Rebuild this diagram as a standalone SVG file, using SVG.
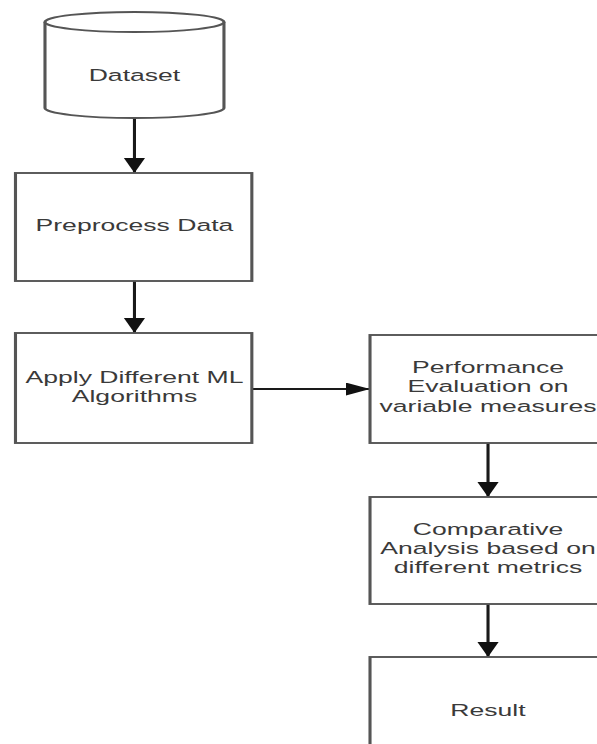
<svg xmlns="http://www.w3.org/2000/svg" width="597" height="744" viewBox="0 0 597 744">
<style>
.box{fill:#fff;stroke:#555;stroke-width:1.9}
.conn{fill:none;stroke:#1a1a1a;stroke-width:1.9}
.lbl{font-family:"Liberation Sans",Arial,sans-serif;font-size:16.3px;fill:#3a3a3a;text-anchor:middle}
</style>
<defs>
<marker id="ah" markerUnits="userSpaceOnUse" markerWidth="16" markerHeight="14" refX="15" refY="6.5" orient="auto">
<path d="M0 0 L15 6.5 L0 13 Z" fill="#111"/>
</marker>
</defs>
<rect width="597" height="744" fill="#fff"/>
<g transform="scale(1.63 1)">
<g id="connectors">
<line class="conn" x1="82.5" y1="118" x2="82.5" y2="173" marker-end="url(#ah)"/>
<line class="conn" x1="82.5" y1="281" x2="82.5" y2="333" marker-end="url(#ah)"/>
<line class="conn" x1="154.6" y1="389" x2="227" y2="389" marker-end="url(#ah)"/>
<line class="conn" x1="299.4" y1="443" x2="299.4" y2="497" marker-end="url(#ah)"/>
<line class="conn" x1="299.4" y1="604" x2="299.4" y2="657" marker-end="url(#ah)"/>
</g>
<g id="dataset">
<path class="box" d="M27.6 22 A54.9 10 0 0 1 137.4 22 L137.4 108 A54.9 10 0 0 1 27.6 108 Z"/>
<path class="box" d="M27.6 22 A54.9 10 0 0 0 137.4 22" fill="none"/>
<text class="lbl" x="82.5" y="81">Dataset</text>
</g>
<g id="preprocess">
<rect class="box" x="9.5" y="173" width="145" height="108"/>
<text class="lbl" x="82.5" y="231">Preprocess Data</text>
</g>
<g id="apply">
<rect class="box" x="9.5" y="333" width="145" height="110"/>
<text class="lbl" x="82.5" y="383">Apply Different ML</text>
<text class="lbl" x="82.5" y="402">Algorithms</text>
</g>
<g id="performance">
<rect class="box" x="227" y="335" width="145" height="108"/>
<text class="lbl" x="299.4" y="373">Performance</text>
<text class="lbl" x="299.4" y="392.5">Evaluation on</text>
<text class="lbl" x="299.4" y="412">variable measures</text>
</g>
<g id="comparative">
<rect class="box" x="227" y="497" width="145" height="107"/>
<text class="lbl" x="299.4" y="535">Comparative</text>
<text class="lbl" x="299.4" y="554">Analysis based on</text>
<text class="lbl" x="299.4" y="573">different metrics</text>
</g>
<g id="result">
<rect class="box" x="227" y="657" width="145" height="110"/>
<text class="lbl" x="299.4" y="716">Result</text>
</g>
</g>
</svg>
